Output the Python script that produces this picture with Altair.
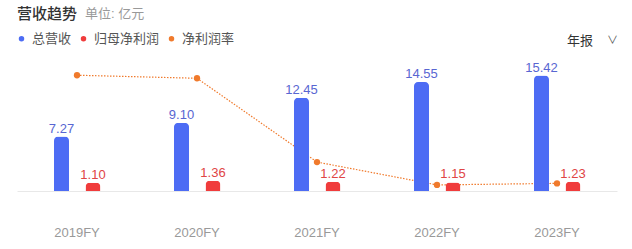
import altair as alt
import pandas as pd

years = ["2019FY", "2020FY", "2021FY", "2022FY", "2023FY"]
revenue = [7.27, 9.10, 12.45, 14.55, 15.42]
profit = [1.10, 1.36, 1.22, 1.15, 1.23]
margin = [15.1, 14.9, 9.4, 7.9, 8.0]
series_names = ["总营收", "归母净利润", "净利润率"]
title_text = ["营收趋势"]
unit_text = ["单位: 亿元"]
period_text = ["年报"]
chevron_text = ["∨"]

df = pd.DataFrame({"year": years, "revenue": revenue, "profit": profit, "margin": margin})
df["rev_label"] = [f"{v:.2f}" for v in revenue]
df["pro_label"] = [f"{v:.2f}" for v in profit]
df["s_rev"] = series_names[0]
df["s_pro"] = series_names[1]
df["s_mar"] = series_names[2]

FONT = "Liberation Sans, Noto Sans CJK SC"
BLUE = "#4d6cf4"
RED = "#f03c3c"
ORANGE = "#f07a2c"

x = alt.X("year:N", sort=years,
          scale=alt.Scale(paddingInner=0, paddingOuter=0),
          axis=alt.Axis(title=None, labelAngle=0, labelFontSize=13, labelColor="#999999",
                        labelPadding=35, domainColor="#e8e8e8", domainWidth=1, ticks=False,
                        labelFont=FONT, grid=False))
bar_scale = alt.Scale(domain=[0, 17.5], nice=False, zero=True)
line_scale = alt.Scale(domain=[7.5, 16.1], nice=False, zero=False)
color_scale = alt.Scale(domain=series_names, range=[BLUE, RED, ORANGE])
legend = alt.Legend(title=None, orient="none", legendX=-2, legendY=-28, direction="horizontal",
                    symbolType="circle", symbolSize=30, labelFontSize=13, labelColor="#555555",
                    labelFont=FONT, columnPadding=5, labelOffset=4, padding=0,
                    symbolStrokeWidth=0)

base = alt.Chart(df)

rev_bar = base.mark_bar(size=15, xOffset=-15.5, cornerRadiusTopLeft=4, cornerRadiusTopRight=4).encode(
    x=x, y=alt.Y("revenue:Q", scale=bar_scale, axis=None),
    color=alt.Color("s_rev:N", scale=color_scale, legend=legend))
pro_bar = base.mark_bar(size=15, xOffset=16, cornerRadiusTopLeft=4, cornerRadiusTopRight=4).encode(
    x=x, y=alt.Y("profit:Q", scale=bar_scale, axis=None),
    color=alt.Color("s_pro:N", scale=color_scale, legend=legend))
rev_text = base.mark_text(xOffset=-15.5, dy=-4, baseline="alphabetic", fontSize=13, font=FONT,
                          color="#5866d2").encode(
    x=x, y=alt.Y("revenue:Q", scale=bar_scale, axis=None), text="rev_label:N")
pro_text = base.mark_text(xOffset=16, dy=-4, baseline="alphabetic", fontSize=13, font=FONT,
                          color="#e04545").encode(
    x=x, y=alt.Y("profit:Q", scale=bar_scale, axis=None), text="pro_label:N")
line = base.mark_line(strokeDash=[1.5, 1.5], strokeWidth=1.2, color=ORANGE).encode(
    x=x, y=alt.Y("margin:Q", scale=line_scale, axis=None))
pts = base.mark_circle(size=40, opacity=1).encode(
    x=x, y=alt.Y("margin:Q", scale=line_scale, axis=None),
    color=alt.Color("s_mar:N", scale=color_scale, legend=legend))

title = alt.Chart(pd.DataFrame({"t": title_text})).mark_text(
    align="left", baseline="middle", fontSize=15, font=FONT, color="#333333", fontWeight=500).encode(
    x=alt.value(0), y=alt.value(-46), text="t:N")
unit = alt.Chart(pd.DataFrame({"t": unit_text})).mark_text(
    align="left", baseline="middle", fontSize=13, font=FONT, color="#999999").encode(
    x=alt.value(68), y=alt.value(-46), text="t:N")
period = alt.Chart(pd.DataFrame({"t": period_text})).mark_text(
    align="left", baseline="middle", fontSize=13, font=FONT, color="#333333").encode(
    x=alt.value(550), y=alt.value(-19), text="t:N")
chev = alt.Chart(pd.DataFrame({"t": chevron_text})).mark_text(
    align="left", baseline="middle", fontSize=11, font=FONT, color="#555555").encode(
    x=alt.value(590), y=alt.value(-19), text="t:N")

chart = alt.layer(line, rev_bar, pro_bar, pts, rev_text, pro_text, title, unit, period, chev).resolve_scale(
    y="independent").properties(
    width=600, height=131,
    padding={"left": 17, "top": 60, "right": 15, "bottom": 58},
    autosize=alt.AutoSizeParams(type="none"),
    background="white").configure_view(stroke=None)

chart.save("out.html", embed_options={"renderer": "svg", "actions": False})
